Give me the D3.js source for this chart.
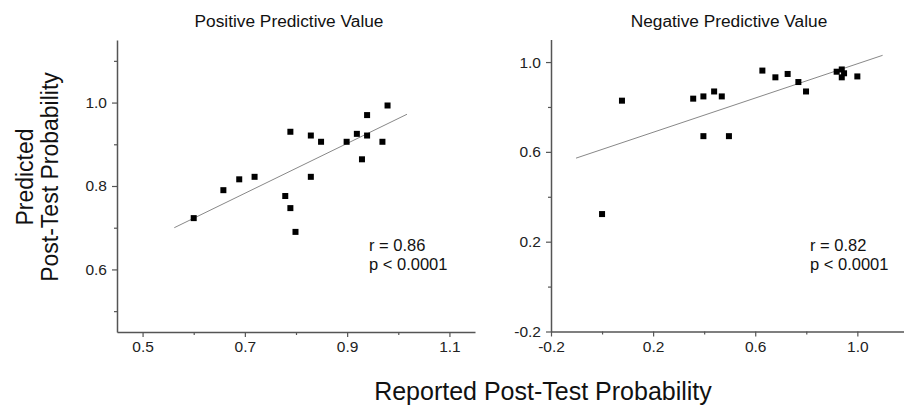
<!DOCTYPE html>
<html>
<head>
<meta charset="utf-8">
<script src="https://cdn.jsdelivr.net/npm/d3@7"></script>
<style>
  body { margin: 0; background: #fff; }
  text { font-family: "Liberation Sans", Arial, sans-serif; }
</style>
</head>
<body>
<div id="chart"></div>
<script>
// Positive predictive value panel
var ppvReported  = [0.60, 0.658, 0.689, 0.719, 0.779, 0.789, 0.789, 0.799, 0.829, 0.829, 0.849, 0.899, 0.919, 0.929, 0.939, 0.939, 0.969, 0.979];
var ppvPredicted = [0.723, 0.790, 0.816, 0.822, 0.776, 0.930, 0.747, 0.690, 0.921, 0.822, 0.906, 0.906, 0.925, 0.864, 0.970, 0.921, 0.906, 0.993];
var ppvFitX = [0.562, 1.017];
var ppvFitY = [0.700, 0.972];
var ppvXTicks = [0.5, 0.7, 0.9, 1.1];
var ppvXMinor = [0.6, 0.8, 1.0];
var ppvYTicks = [0.6, 0.8, 1.0];
var ppvYMinor = [0.5, 0.7, 0.9, 1.1];

// Negative predictive value panel
var npvReported  = [0.0, 0.078, 0.357, 0.397, 0.439, 0.469, 0.397, 0.497, 0.628, 0.679, 0.727, 0.769, 0.799, 0.919, 0.939, 0.939, 0.948, 1.0];
var npvPredicted = [0.323, 0.828, 0.837, 0.847, 0.869, 0.847, 0.670, 0.670, 0.962, 0.932, 0.947, 0.911, 0.869, 0.957, 0.967, 0.932, 0.950, 0.936];
var npvFitX = [-0.102, 1.099];
var npvFitY = [0.572, 1.030];
var npvXTicks = [-0.2, 0.2, 0.6, 1.0];
var npvXMinor = [0.0, 0.4, 0.8];
var npvYTicks = [-0.2, 0.2, 0.6, 1.0];
var npvYMinor = [0.0, 0.4, 0.8];

var svgWidth = 904;
var svgHeight = 406;

var svg = d3.select("#chart")
  .append("svg")
  .attr("width", svgWidth)
  .attr("height", svgHeight);

var axisColor = "#555";
var fmt = d => d3.format(".1f")(d).replace("−", "-");

function drawPanel(opt) {
  var x = d3.scaleLinear().domain(opt.xDomain).range(opt.xRange);
  var y = d3.scaleLinear().domain(opt.yDomain).range(opt.yRange);
  var g = svg.append("g");

  // minor ticks first, no labels
  g.append("g")
    .attr("transform", `translate(0, ${opt.yRange[0]})`)
    .call(d3.axisBottom(x).tickValues(opt.xMinor).tickSize(3).tickSizeOuter(0).tickFormat(""))
    .call(s => s.select(".domain").remove());
  g.append("g")
    .attr("transform", `translate(${opt.xRange[0]}, 0)`)
    .call(d3.axisLeft(y).tickValues(opt.yMinor).tickSize(3).tickSizeOuter(0).tickFormat(""))
    .call(s => s.select(".domain").remove());

  var xAxis = g.append("g")
    .attr("transform", `translate(0, ${opt.yRange[0]})`)
    .call(d3.axisBottom(x).tickValues(opt.xTicks).tickSize(5).tickSizeOuter(0).tickFormat(fmt));
  var yAxis = g.append("g")
    .attr("transform", `translate(${opt.xRange[0]}, 0)`)
    .call(d3.axisLeft(y).tickValues(opt.yTicks).tickSize(5).tickSizeOuter(0).tickFormat(fmt));

  g.selectAll(".domain").attr("stroke", axisColor).attr("stroke-width", 1.5);
  g.selectAll(".tick line").attr("stroke", axisColor).attr("stroke-width", 1.2);
  xAxis.selectAll("text").attr("font-size", 15.5).attr("fill", "#222").attr("dy", "0.8em");
  yAxis.selectAll("text").attr("font-size", 15.5).attr("fill", "#222").attr("x", -10);

  // fit line
  var line = d3.line().x(d => x(d[0])).y(d => y(d[1]));
  g.append("path")
    .datum(d3.zip(opt.fitX, opt.fitY))
    .attr("d", line)
    .attr("fill", "none")
    .attr("stroke", "#888")
    .attr("stroke-width", 1);

  // points
  var s = 6;
  g.selectAll(null)
    .data(d3.zip(opt.xs, opt.ys))
    .enter()
    .append("rect")
    .attr("x", d => x(d[0]) - s / 2)
    .attr("y", d => y(d[1]) - s / 2)
    .attr("width", s)
    .attr("height", s)
    .attr("fill", "#000");

  svg.append("text")
    .attr("x", opt.titleX)
    .attr("y", 27)
    .attr("text-anchor", "middle")
    .attr("font-size", 17.3)
    .attr("fill", "#111")
    .text(opt.title);

  // r / p annotation, two separate lines
  svg.append("text")
    .attr("x", opt.annX)
    .attr("y", 251)
    .attr("font-size", 16.5)
    .attr("fill", "#111")
    .text(opt.r);
  svg.append("text")
    .attr("x", opt.annX)
    .attr("y", 270)
    .attr("font-size", 16.5)
    .attr("fill", "#111")
    .text("p < 0.0001");
}

drawPanel({
  xDomain: [0.45, 1.15], xRange: [117, 475],
  yDomain: [0.45, 1.15], yRange: [332, 40],
  xTicks: ppvXTicks, xMinor: ppvXMinor, yTicks: ppvYTicks, yMinor: ppvYMinor,
  xs: ppvReported, ys: ppvPredicted, fitX: ppvFitX, fitY: ppvFitY,
  title: "Positive Predictive Value", titleX: 289,
  r: "r = 0.86", annX: 369
});

drawPanel({
  xDomain: [-0.2, 1.2], xRange: [551, 908.4],
  yDomain: [-0.2, 1.1], yRange: [331.5, 39.6],
  xTicks: npvXTicks, xMinor: npvXMinor, yTicks: npvYTicks, yMinor: npvYMinor,
  xs: npvReported, ys: npvPredicted, fitX: npvFitX, fitY: npvFitY,
  title: "Negative Predictive Value", titleX: 729,
  r: "r = 0.82", annX: 810
});

// shared axis titles
svg.append("text")
  .attr("transform", "translate(33, 177) rotate(-90)")
  .attr("text-anchor", "middle")
  .attr("font-size", 23)
  .attr("fill", "#111")
  .text("Predicted");
svg.append("text")
  .attr("transform", "translate(58, 177) rotate(-90)")
  .attr("text-anchor", "middle")
  .attr("font-size", 23)
  .attr("fill", "#111")
  .text("Post-Test Probability");

svg.append("text")
  .attr("x", 543)
  .attr("y", 400)
  .attr("text-anchor", "middle")
  .attr("font-size", 25)
  .attr("fill", "#111")
  .text("Reported Post-Test Probability");
</script>
</body>
</html>
